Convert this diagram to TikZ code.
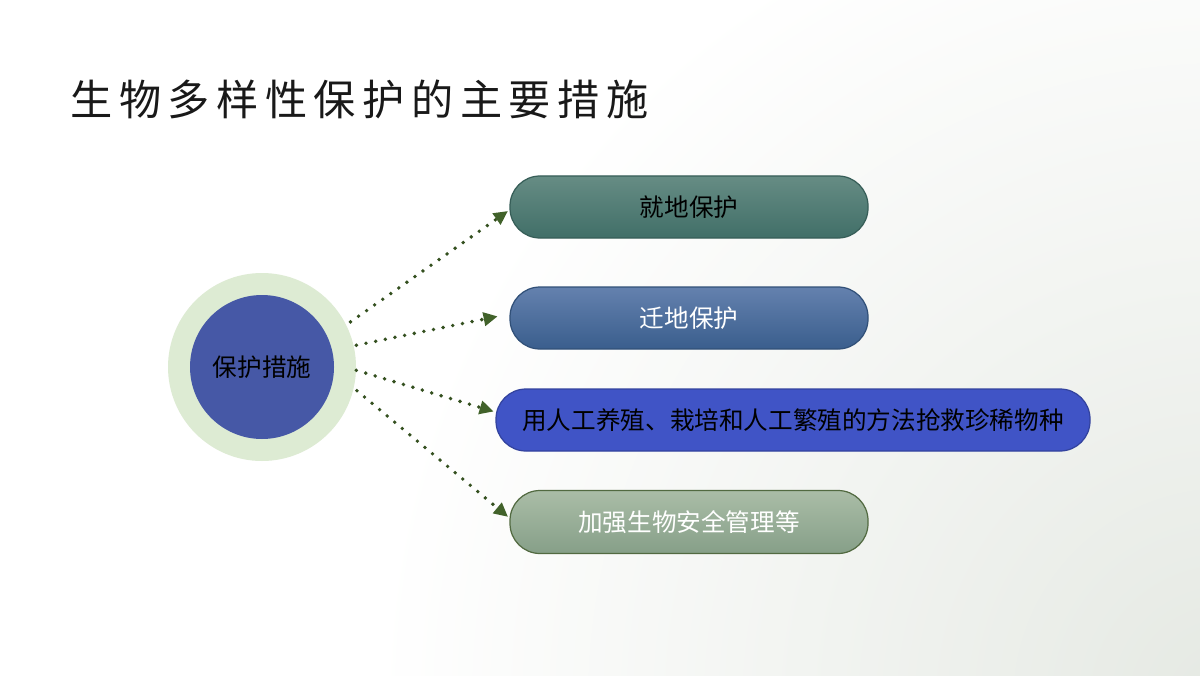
\documentclass[tikz,border=0pt]{standalone}
\usepackage{fontspec}
\usepackage{tikz}
\usetikzlibrary{arrows.meta}
\newfontfamily\cjk{Noto Sans CJK SC}
\newfontfamily\cjktitle[LetterSpace=15.5]{Noto Sans CJK SC}
\definecolor{ringgreen}{HTML}{DDEBD3}
\definecolor{coreblue}{HTML}{4658A6}
\definecolor{linkgreen}{HTML}{34501F}
\definecolor{tipgreen}{HTML}{41622A}
\definecolor{tealtop}{HTML}{668C84}
\definecolor{tealbot}{HTML}{416F68}
\definecolor{slatetop}{HTML}{6481AE}
\definecolor{slatebot}{HTML}{3A5E8D}
\definecolor{royal}{HTML}{4054C6}
\definecolor{sagetop}{HTML}{AABDA7}
\definecolor{sagebot}{HTML}{869F88}
\definecolor{paper}{HTML}{E5E9E3}

\begin{document}
\begin{tikzpicture}[
  pill/.style={rounded corners=0.6cm, minimum width=7.16cm, minimum height=1.24cm,
    inner sep=0pt, line width=0.7pt, font=\cjk\fontsize{14}{16}\selectfont},
  link/.style={draw=linkgreen, line width=2.2pt, line cap=round,
    dash pattern=on 0pt off 5.6pt, -{Triangle[length=8pt,width=7.5pt,color=tipgreen]}, shorten >=1pt}
]
  \useasboundingbox (0,0) rectangle (24,13.5);
  % background, greyish towards the lower right
  \begin{scope}
    \clip (0,0) rectangle (24,13.5);
    \fill[white] (0,0) rectangle (24,13.5);
    \shade[inner color=paper, outer color=white] (24.5,-0.5) circle (17);
  \end{scope}
  \node[anchor=west, inner sep=0pt, font=\cjktitle\fontsize{24}{28}\selectfont,
    text=black!90] (title) at (1.40,11.52) {生物多样性保护的主要措施};
  % centre
  \node[circle, fill=ringgreen, minimum size=3.76cm, inner sep=0pt] (ring) at (5.24,6.16) {};
  \node[circle, fill=coreblue, minimum size=2.88cm, inner sep=0pt,
    font=\cjk\fontsize{14}{16}\selectfont] (core) at (ring) {保护措施};
  % measures
  \node[pill, top color=tealtop, bottom color=tealbot, draw=tealbot!85!black] (insitu)
    at (13.78,9.36) {就地保护};
  \node[pill, top color=slatetop, bottom color=slatebot, draw=slatebot!85!black, text=white] (exsitu)
    at (13.78,7.14) {迁地保护};
  \node[pill, fill=royal, draw=royal!80!black, minimum width=11.88cm] (breed)
    at (15.86,5.10) {用人工养殖、栽培和人工繁殖的方法抢救珍稀物种};
  \node[pill, top color=sagetop, bottom color=sagebot, draw=linkgreen!85, text=white,
    minimum height=1.26cm] (manage) at (13.78,3.06) {加强生物安全管理等};
  % dotted arrows
  \draw[link] ([shift={(27:0.1)}]ring.27) -- ([yshift=-0.06cm]insitu.west);
  \draw[link] ([shift={(13:0.05)}]ring.13) -- ([shift={(-0.2,0.04)}]exsitu.west);
  \draw[link] (ring.-2) -- ([yshift=0.16cm]breed.west);
  \draw[link] ([shift={(-14:0.07)}]ring.-14) -- ([yshift=0.08cm]manage.west);
\end{tikzpicture}
\end{document}
